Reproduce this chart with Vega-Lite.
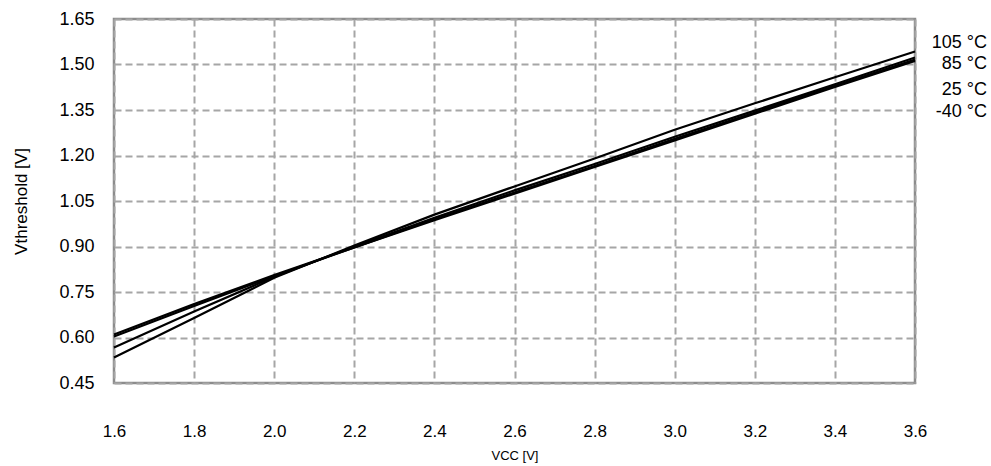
{
  "$schema": "https://vega.github.io/schema/vega-lite/v6.json",
  "width": 801,
  "height": 364,
  "autosize": "none",
  "padding": {"left": 114, "top": 19, "right": 76, "bottom": 83},
  "background": "white",
  "config": {
    "view": {"stroke": "#8c8c8c", "strokeWidth": 2.5},
    "font": "Liberation Sans"
  },
  "datasets": {
    "curves": [
      {"vcc": 1.6, "v": 0.534, "temp": "105 °C"},
      {"vcc": 1.8, "v": 0.664, "temp": "105 °C"},
      {"vcc": 2.0, "v": 0.797, "temp": "105 °C"},
      {"vcc": 2.2, "v": 0.903, "temp": "105 °C"},
      {"vcc": 2.4, "v": 1.005, "temp": "105 °C"},
      {"vcc": 2.6, "v": 1.098, "temp": "105 °C"},
      {"vcc": 2.8, "v": 1.190, "temp": "105 °C"},
      {"vcc": 3.0, "v": 1.285, "temp": "105 °C"},
      {"vcc": 3.2, "v": 1.372, "temp": "105 °C"},
      {"vcc": 3.4, "v": 1.458, "temp": "105 °C"},
      {"vcc": 3.6, "v": 1.543, "temp": "105 °C"},
      {"vcc": 1.6, "v": 0.567, "temp": "85 °C"},
      {"vcc": 1.8, "v": 0.686, "temp": "85 °C"},
      {"vcc": 2.0, "v": 0.800, "temp": "85 °C"},
      {"vcc": 2.2, "v": 0.900, "temp": "85 °C"},
      {"vcc": 2.4, "v": 0.995, "temp": "85 °C"},
      {"vcc": 2.6, "v": 1.085, "temp": "85 °C"},
      {"vcc": 2.8, "v": 1.172, "temp": "85 °C"},
      {"vcc": 3.0, "v": 1.262, "temp": "85 °C"},
      {"vcc": 3.2, "v": 1.348, "temp": "85 °C"},
      {"vcc": 3.4, "v": 1.435, "temp": "85 °C"},
      {"vcc": 3.6, "v": 1.523, "temp": "85 °C"},
      {"vcc": 1.6, "v": 0.603, "temp": "25 °C"},
      {"vcc": 1.8, "v": 0.704, "temp": "25 °C"},
      {"vcc": 2.0, "v": 0.803, "temp": "25 °C"},
      {"vcc": 2.2, "v": 0.897, "temp": "25 °C"},
      {"vcc": 2.4, "v": 0.990, "temp": "25 °C"},
      {"vcc": 2.6, "v": 1.078, "temp": "25 °C"},
      {"vcc": 2.8, "v": 1.165, "temp": "25 °C"},
      {"vcc": 3.0, "v": 1.255, "temp": "25 °C"},
      {"vcc": 3.2, "v": 1.342, "temp": "25 °C"},
      {"vcc": 3.4, "v": 1.430, "temp": "25 °C"},
      {"vcc": 3.6, "v": 1.516, "temp": "25 °C"},
      {"vcc": 1.6, "v": 0.610, "temp": "-40 °C"},
      {"vcc": 1.8, "v": 0.710, "temp": "-40 °C"},
      {"vcc": 2.0, "v": 0.806, "temp": "-40 °C"},
      {"vcc": 2.2, "v": 0.897, "temp": "-40 °C"},
      {"vcc": 2.4, "v": 0.987, "temp": "-40 °C"},
      {"vcc": 2.6, "v": 1.074, "temp": "-40 °C"},
      {"vcc": 2.8, "v": 1.162, "temp": "-40 °C"},
      {"vcc": 3.0, "v": 1.250, "temp": "-40 °C"},
      {"vcc": 3.2, "v": 1.338, "temp": "-40 °C"},
      {"vcc": 3.4, "v": 1.426, "temp": "-40 °C"},
      {"vcc": 3.6, "v": 1.512, "temp": "-40 °C"}
    ],
    "labels": [
      {"vcc": 3.6, "v": 1.572, "label": "105 °C"},
      {"vcc": 3.6, "v": 1.503, "label": "85 °C"},
      {"vcc": 3.6, "v": 1.416, "label": "25 °C"},
      {"vcc": 3.6, "v": 1.343, "label": "-40 °C"}
    ]
  },
  "layer": [
    {
      "data": {"name": "curves"},
      "mark": {"type": "line", "color": "black", "strokeWidth": 2.2},
      "encoding": {
        "x": {
          "field": "vcc", "type": "quantitative",
          "scale": {"domain": [1.6, 3.6], "nice": false, "zero": false},
          "axis": {
            "title": "VCC [V]",
            "values": [1.6, 1.8, 2.0, 2.2, 2.4, 2.6, 2.8, 3.0, 3.2, 3.4, 3.6],
            "format": ".1f",
            "domain": false, "ticks": false,
            "labelPadding": 40, "labelFontSize": 17, "labelColor": "black",
            "labelFlush": false,
            "titleFontSize": 13, "titleFontWeight": "normal", "titleColor": "black",
            "titlePadding": 10,
            "grid": true, "gridColor": "#a6a6a6", "gridWidth": 2, "gridDash": [7, 4]
          }
        },
        "y": {
          "field": "v", "type": "quantitative",
          "scale": {"domain": [0.45, 1.65], "nice": false, "zero": false},
          "axis": {
            "title": "Vthreshold [V]",
            "values": [0.45, 0.6, 0.75, 0.9, 1.05, 1.2, 1.35, 1.5, 1.65],
            "format": ".2f",
            "domain": false, "ticks": false,
            "labelPadding": 20, "labelFontSize": 18, "labelColor": "black",
            "labelFlush": false,
            "titleFontSize": 17, "titleFontWeight": "normal", "titleColor": "black",
            "titlePadding": 28,
            "grid": true, "gridColor": "#a6a6a6", "gridWidth": 2, "gridDash": [7, 4]
          }
        },
        "detail": {"field": "temp", "type": "nominal"}
      }
    },
    {
      "data": {"name": "labels"},
      "mark": {"type": "text", "align": "right", "baseline": "middle", "dx": 72, "fontSize": 18, "color": "black"},
      "encoding": {
        "x": {"field": "vcc", "type": "quantitative"},
        "y": {"field": "v", "type": "quantitative"},
        "text": {"field": "label"}
      }
    }
  ]
}
